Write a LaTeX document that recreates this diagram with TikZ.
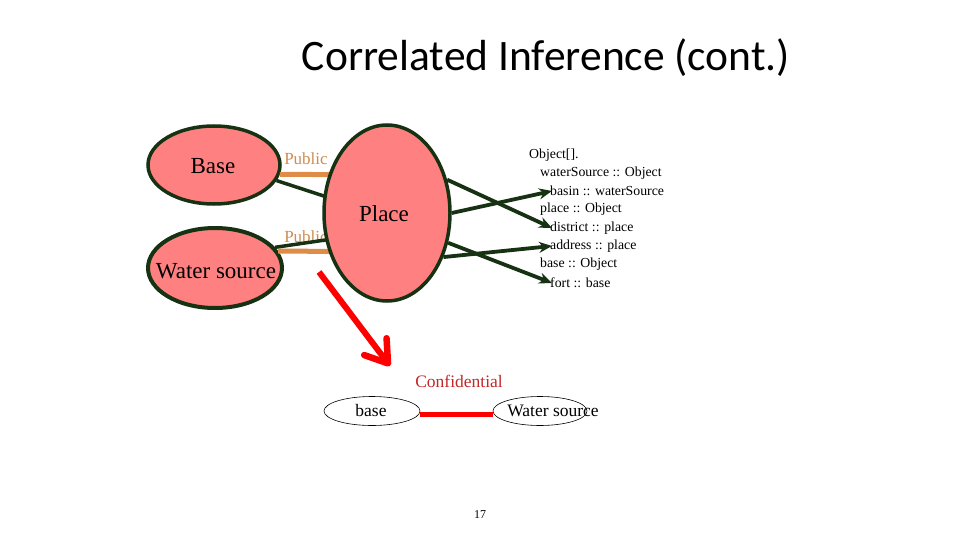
\documentclass[tikz,border=0pt]{standalone}
\usepackage{fontspec}
\setmainfont{Liberation Serif}
\newfontfamily\titlefont{Carlito}
\usetikzlibrary{shapes.geometric,arrows.meta}
\definecolor{pink}{RGB}{255,128,128}
\definecolor{dgreen}{RGB}{22,50,18}
\definecolor{pubtext}{RGB}{205,140,80}
\definecolor{publine}{RGB}{222,140,70}
\definecolor{conftext}{RGB}{192,40,42}
\tikzset{
  bigell/.style={ellipse, draw=dgreen, line width=3.5pt, fill=pink, inner sep=0pt, font=\fontsize{22}{24}\selectfont},
  smallell/.style={ellipse, draw=black, line width=0.6pt, inner sep=0pt, minimum width=96pt, minimum height=29pt},
  pubtxt/.style={text=pubtext, font=\fontsize{17}{19}\selectfont, inner sep=0pt},
  publn/.style={draw=publine, line width=5pt},
  grnln/.style={draw=dgreen, line width=3.5pt},
  grnarr/.style={draw=dgreen, line width=3.8pt, -{Stealth[length=13pt,width=11pt]}},
  objtxt/.style={anchor=west, inner sep=0pt, font=\fontsize{13.8}{15}\selectfont},
  redarr/.style={draw=red, line width=6pt, -{Straight Barb[length=21pt,width=28pt,line width=6.5pt,round]}},
  redln/.style={draw=red, line width=5pt},
  lbltxt/.style={inner sep=0pt, font=\fontsize{17.5}{19}\selectfont}
}
\begin{document}
\begin{tikzpicture}[x=1pt,y=-1pt]
\useasboundingbox (0,0) rectangle (960,540);
% title
\node[font=\titlefont\fontsize{43.5}{48}\selectfont, inner sep=0pt] (title) at (546,58) {Correlated Inference (cont.)};
% left ellipses
\node[bigell, minimum width=132pt, minimum height=78pt] (base) at (214,165) {};
\node[inner sep=0pt, font=\fontsize{23}{25}\selectfont] (baset) at (213,166) {Base};
\node[bigell, line width=4pt, minimum width=134pt, minimum height=80pt] (water) at (215,268) {};
\node[inner sep=0pt, font=\fontsize{23}{25}\selectfont] (watert) at (216,271) {Water source};
% Public labels
\node[pubtxt] (pub1) at (306,159) {Public};
\node[pubtxt] (pub2) at (306,237) {Public};
% place ellipse (drawn later over the lines)
\path (387,213) coordinate (pc);
\node[ellipse, minimum width=126pt, minimum height=176pt, inner sep=0pt] (place) at (pc) {};
% connectors behind place
\draw[publn] (base.-8) -- (place.146);
\draw[publn] (water.15) -- (place.214);
\draw[grnln] (base.-14) -- (place.165);
\draw[grnln] (water.19) -- (place.204);
\node[bigell, minimum width=126pt, minimum height=176pt] (placeb) at (pc) {};
\node[inner sep=0pt, font=\fontsize{23}{25}\selectfont] (placet) at (384,214) {Place};
% object hierarchy text
\node[objtxt] (obj) at (529,155) {Object[].};
\node[objtxt] (ws) at (540,173) {waterSource :: Object};
\node[objtxt] (basin) at (550,191) {basin :: waterSource};
\node[objtxt] (plc) at (540,209) {place :: Object};
\node[objtxt] (district) at (550,228) {district :: place};
\node[objtxt] (address) at (550,246) {address :: place};
\node[objtxt] (bs) at (540,264) {base :: Object};
\node[objtxt] (fort) at (550,283) {fort :: base};
% green arrows
\draw[grnarr] (placeb.29) -- ([xshift=2pt]district.west);
\draw[grnarr] (placeb.0) -- ([xshift=2pt]basin.west);
\draw[grnarr] (placeb.-26) -- ([xshift=2pt]fort.west);
\draw[grnarr] (placeb.-38) -- ([xshift=2pt]address.west);
% red arrow
\coordinate (rs) at (319,272);
\coordinate (re) at (390,366);
\draw[redarr] (rs) -- (re);
% bottom
\node[smallell] (cbase) at (372,411) {};
\node[lbltxt] (cbaset) at (371,411) {base};
\node[smallell, minimum width=94pt] (cwater) at (540,411) {};
\node[lbltxt] (cwatert) at (553,411) {Water source};
\draw[redln] ([yshift=-3pt]cbase.east) -- ([yshift=-3pt]cwater.west);
\node[lbltxt, text=conftext] (conf) at (459,381) {Confidential};
% page number
\node[inner sep=0pt, font=\fontsize{12}{14}\selectfont] (pnum) at (480,515) {17};
\end{tikzpicture}
\end{document}
